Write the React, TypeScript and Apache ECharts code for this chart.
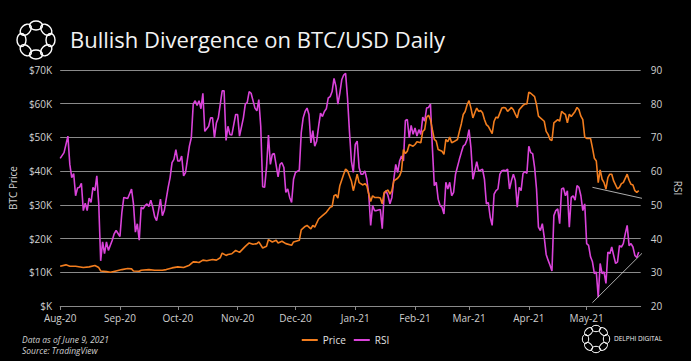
import React, { useEffect, useRef } from "react";
import * as echarts from "echarts";

// x positions are days after 1 Aug 2020
const monthTickDays = [0, 31, 61, 92, 122, 153, 184, 212, 243, 273];
const monthTickLabels = ["Aug-20", "Sep-20", "Oct-20", "Nov-20", "Dec-20", "Jan-21", "Feb-21", "Mar-21", "Apr-21", "May-21"];

const priceDays = [0,3,5,8,12,15,18,20,21,24,26,29,32,35,37,38,41,42,46,49,53,55,58,61,64,67,69,71,72,74,76,79,81,83,84,86,87,89,91,93,96,98,100,102,103,105,107,108,110,112,113,115,117,120,121,124,125,127,128,130,131,132,134,136,138,140,141,142,143,144,145,147,148,149,151,152,153,154,155,157,158,159,160,161,162,163,165,166,167,168,170,171,172,173,175,176,177,178,179,180,181,183,184,185,187,188,189,190,191,192,193,194,195,196,198,199,200,201,202,203,204,206,207,208,209,210,211,212,213,214,215,216,217,218,219,220,221,222,224,225,226,227,229,230,231,232,234,235,236,237,238,240,241,242,243,244,246,247,248,249,251,252,253,254,255,256,258,259,260,261,262,263,264,265,267,268,269,270,271,272,273,275,276,277,278,279,280,281,282,283,284,285,286,287,289,290,291,292,294,295,296,297,298,299,300];
// BTC price in $K
const priceValues = [11.8,12.2,11.8,11.8,11.4,11.6,12,11.4,10.4,10.2,10,10.4,10.8,11.1,11,10.4,10.3,10.6,10.8,10.6,10.6,10.8,11.3,11.6,11.4,12.1,13.1,13,12.9,13.6,13.4,13.8,13.6,14.3,15.7,15,15.3,15.5,16.5,15.9,17.7,18.7,18.3,18.5,19,17.2,17.7,19.7,19,19.5,18.7,19.2,18.5,18,19,19.5,22.6,23.6,23.9,22.9,23.9,23.4,25.8,26.8,27.8,29.3,29.5,32.7,33,32,35.7,39.1,40.6,40.1,37.1,34.2,36.6,39.1,36.6,35.9,36.3,35.7,33.2,31,32.7,32.2,32.2,32,30.3,33.7,34.4,33.2,34.2,37.1,37.9,38.6,40.1,46.4,45.2,45.9,47.9,47.4,47.9,48.7,48.4,51.8,52.3,56,56.6,55.3,52.3,49.4,48.9,46.4,45.9,45,49.4,48.7,50.1,48.4,48.7,49.4,51.8,54,56.8,57.7,59.7,60.9,58.7,55.8,57.3,58.7,57.7,58,57.3,55.3,53.8,53.3,51.1,54.8,56,55.8,58.7,58.9,58.7,57.7,58.9,58.2,56.9,55.8,58.2,59.5,59.9,59.9,63.4,63.1,62.1,59.7,56.3,55.8,54.8,51.8,50.9,49.4,49.1,54.3,55.3,54.8,57.7,57.2,56.8,54.3,56.9,56.2,57.7,58.9,58.2,56.3,55.3,50.1,49.7,49.7,46.9,43.8,43,36.6,40.4,37.6,36.6,34.7,38.1,39.1,39.1,37.1,34.7,35.2,36.3,36.6,39.1,37.3,36.1,35.9,34.2,33.7,34.2];

const rsiDays = [0,2,4,5,6,7,8,9,10,11,12,13,14,15,16,17,18,19,20,21,22,23,24,25,27,28,29,31,32,33,35,37,38,39,40,41,42,43,44,45,46,47,48,49,50,51,52,53,54,56,57,58,59,60,61,62,63,64,65,66,67,68,69,70,71,72,73,74,75,77,78,79,80,81,82,84,85,86,87,88,89,90,91,92,93,95,96,97,98,99,101,102,103,104,105,106,107,108,109,110,111,113,114,115,116,117,118,119,120,121,122,124,125,126,127,128,129,130,131,132,133,134,135,136,137,138,139,140,141,142,143,144,145,146,147,148,149,150,151,152,153,154,155,156,157,158,159,160,161,162,163,164,166,167,168,169,170,171,172,173,174,175,176,177,178,179,180,181,182,183,184,185,186,187,188,189,190,191,192,193,194,195,196,197,198,199,200,201,202,203,204,205,207,208,209,210,211,212,213,214,215,216,217,218,219,220,221,222,223,224,225,226,227,228,229,230,231,232,233,234,235,236,237,238,239,240,241,242,243,244,245,246,247,248,249,250,251,252,253,254,255,256,257,258,259,260,261,262,263,264,265,266,267,268,269,270,271,272,273,274,275,276,277,278,279,280,281,282,283,284,285,286,287,288,289,290,291,292,293,294,295,296,297,298,299,300];
const rsiValues = [63.8,65.5,70.4,62,58.1,59.3,52.7,55,55.2,56.4,48.3,50.5,48.3,52,50.7,55.2,54.2,58.6,50.3,33.4,39,35.5,39,36.5,39.5,41.4,42.4,40.6,47.8,52.2,51.9,54.7,50.3,41.9,44.4,39.5,49.3,48.8,49.8,50.3,49.5,51.4,49.3,46.5,45.3,48.3,51.7,46.8,48.3,55.2,58.1,62.5,63.5,66.4,63,63,64.5,58.6,59.6,63.5,67.4,69.9,79.9,80.9,79.5,80.9,78.5,83.1,71.8,73.3,75.8,75.8,69.9,74.3,75.8,83.8,83.8,69.1,73.3,70.9,70.7,73.8,76.8,76.8,70.4,75.8,79.9,80.4,83.6,83.1,78.7,77.9,81.2,73.3,55.4,55.2,61.1,70.7,62,65,65.2,58.3,62,62.5,61.1,53.7,54.7,52.2,50.7,57.6,59.6,60.3,71.4,75.8,77.7,78.7,76.8,68.4,72,67.4,68.9,73.3,77.2,76.2,77.7,78.5,81.7,82.1,83.6,87.5,85.1,79.9,83.1,87.1,88.5,89,81.7,71.8,63,59.6,67.9,68.9,61.1,59.1,59.1,60.1,57.6,53.2,43.9,49.8,48.3,48.3,48.6,42.9,53.2,54.2,52.7,50.3,52.2,57.6,62,59.6,63,64.5,63,75,75.3,69.9,73.6,70.9,72.8,70.4,72.3,70.9,76,74.8,78.7,78.9,79.9,66.9,55.7,56.7,51.7,49.8,49.3,47.3,56.7,54.7,56.7,52.7,53.7,59.1,63.5,65.5,67.4,67.9,69.4,72.3,66.9,57.6,60.1,62.8,60.1,60.3,60.6,57.6,50.3,50.7,46.3,43.9,53.2,54.2,54.7,59.1,60.1,60.3,60.1,60.6,54.7,57.2,59.1,57.2,49.3,55.2,54.2,59.3,59.9,59.3,67.4,65.5,65.2,61.1,54.7,43.4,42.4,44.4,40.4,35.3,33.6,32.1,30.4,46.8,48.3,48.8,44.4,54.7,55,52.7,54.2,43.4,52.2,52.7,51.4,55.7,55.2,52.7,48.3,50.3,38.5,38,34.6,33.1,29.6,30.1,22.6,32.6,29.6,30.1,26.7,36,35.5,37.5,35,32.6,33.1,37.9,37.5,38.5,41.4,43.9,37.9,38.5,37.5,35,34.4,36];

// divergence trend lines: [day, value]
const priceTrendDays = [276, 302];
const priceTrendValues = [35.2, 31.9];
const rsiTrendDays = [276, 302];
const rsiTrendValues = [21, 35.8];

const ORANGE = "#F27D1E";
const PINK = "#DA43DA";
const FONT = "'Open Sans', 'Noto Sans', sans-serif";

function zip(a: number[], b: number[]) {
  return a.map((d, i) => [d, b[i]]);
}

function logo(cx: number, cy: number, ringR: number, rx: number, ry: number, lw: number) {
  const children: any[] = [];
  const n = 8;
  for (let i = 0; i < n; i++) {
    const ang = (i / n) * Math.PI * 2 - Math.PI / 2;
    children.push({
      type: "ellipse",
      x: cx + ringR * Math.cos(ang),
      y: cy + ringR * Math.sin(ang),
      rotation: -(ang + Math.PI / 2),
      shape: { cx: 0, cy: 0, rx, ry },
      style: { fill: "none", stroke: "#ffffff", lineWidth: lw },
    });
  }
  return children;
}

export default function App() {
  const ref = useRef<HTMLDivElement>(null);
  useEffect(() => {
    if (!ref.current) return;
    const chart = echarts.init(ref.current, null, { renderer: "svg" });
    const axisLabelColor = "#d0d0d0";
    chart.setOption({
      animation: false,
      backgroundColor: "#000000",
      textStyle: { fontFamily: FONT },
      grid: { left: 53, right: 46, top: 70, bottom: 55 },
      legend: {
        data: ["Price", "RSI"],
        top: 330,
        left: "center",
        icon: "rect",
        itemWidth: 16,
        itemHeight: 2,
        itemGap: 8,
        textStyle: { color: "#e0e0e0", fontSize: 10, fontFamily: FONT },
      },
      xAxis: {
        type: "value",
        min: 0,
        max: 301,
        axisLine: { show: true, lineStyle: { color: "#8a8a8a", width: 1 } },
        axisTick: { show: true, customValues: monthTickDays, length: 4, lineStyle: { color: "#8a8a8a" } },
        axisLabel: {
          customValues: monthTickDays,
          color: axisLabelColor,
          fontSize: 10,
          margin: 7,
          formatter: (v: number) => {
            const i = monthTickDays.indexOf(Math.round(v));
            return i >= 0 ? monthTickLabels[i] : "";
          },
        },
        splitLine: { show: false },
      },
      yAxis: [
        {
          type: "value",
          min: 0,
          max: 70,
          interval: 10,
          name: "BTC Price",
          nameLocation: "middle",
          nameGap: 36,
          nameTextStyle: { color: axisLabelColor, fontSize: 10 },
          axisLine: { show: false },
          axisTick: { show: false },
          axisLabel: {
            color: axisLabelColor,
            fontSize: 10,
            margin: 8,
            formatter: (v: number) => "$" + (v === 0 ? "" : v) + "K",
          },
          splitLine: { show: true, lineStyle: { color: "#8a8a8a", width: 1 } },
        },
        {
          type: "value",
          position: "right",
          min: 20,
          max: 90,
          interval: 10,
          name: "RSI",
          nameLocation: "middle",
          nameGap: 30,
          nameRotate: -90,
          nameTextStyle: { color: axisLabelColor, fontSize: 10 },
          axisLine: { show: false },
          axisTick: { show: false },
          axisLabel: { color: axisLabelColor, fontSize: 10, margin: 10 },
          splitLine: { show: false },
        },
      ],
      series: [
        {
          name: "Price",
          type: "line",
          yAxisIndex: 0,
          data: zip(priceDays, priceValues),
          showSymbol: false,
          symbol: "none",
          lineStyle: { color: ORANGE, width: 1.6 },
          itemStyle: { color: ORANGE },
          z: 3,
        },
        {
          name: "RSI",
          type: "line",
          yAxisIndex: 1,
          data: zip(rsiDays, rsiValues),
          showSymbol: false,
          symbol: "none",
          lineStyle: { color: PINK, width: 1.6 },
          itemStyle: { color: PINK },
          z: 2,
        },
        {
          name: "Price trend",
          type: "line",
          yAxisIndex: 0,
          data: zip(priceTrendDays, priceTrendValues),
          symbol: "none",
          clip: false,
          silent: true,
          lineStyle: { color: "#d8d8d8", width: 0.8 },
          z: 4,
        },
        {
          name: "RSI trend",
          type: "line",
          yAxisIndex: 1,
          data: zip(rsiTrendDays, rsiTrendValues),
          symbol: "none",
          clip: false,
          silent: true,
          lineStyle: { color: "#d8d8d8", width: 0.8 },
          z: 4,
        },
      ],
      graphic: [
        ...logo(36, 40, 14.5, 6.5, 4.5, 1.4),
        {
          type: "text",
          left: 70,
          top: 28,
          style: { text: "Bullish Divergence on BTC/USD Daily", fill: "#f2f2f2", fontSize: 22, fontFamily: FONT },
        },
        {
          type: "text",
          left: 22,
          top: 335,
          style: { text: "Data as of June 9, 2021", fill: "#d0d0d0", fontSize: 8.5, fontStyle: "italic", fontFamily: FONT },
        },
        {
          type: "text",
          left: 22,
          top: 346,
          style: { text: "Source: TradingView", fill: "#d0d0d0", fontSize: 8.5, fontStyle: "italic", fontFamily: FONT },
        },
        ...logo(596, 339, 10.5, 4.6, 3.2, 1),
        {
          type: "text",
          left: 614,
          top: 335,
          style: { text: "DELPHI DIGITAL", fill: "#f0f0f0", fontSize: 6.5, fontFamily: FONT },
        },
      ],
    });
    return () => chart.dispose();
  }, []);
  return (
    <div
      ref={ref}
      style={{ position: "fixed", left: 0, top: 0, width: 691, height: 361, background: "#000" }}
    />
  );
}
